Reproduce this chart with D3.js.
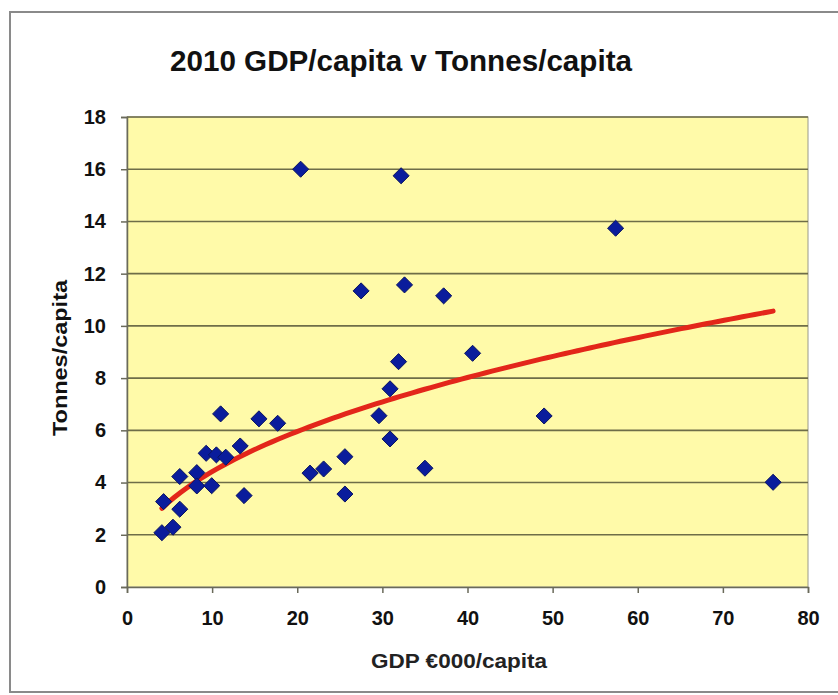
<!DOCTYPE html>
<html>
<head>
<meta charset="utf-8">
<script src="https://cdn.jsdelivr.net/npm/d3@7"></script>
<style>
  html, body { margin: 0; padding: 0; background: #ffffff; }
  svg { display: block; }
  text { font-family: "Liberation Sans", Arial, sans-serif; }
</style>
</head>
<body>
<svg id="chart" width="838" height="695"></svg>
<script>
// ---- data ----
const gdpPerCapita = [4.1, 5.4, 4.3, 6.2, 6.2, 8.2, 8.2, 9.3, 9.95, 10.5, 11.6, 11.0, 13.3, 13.75, 15.5, 17.7,
  20.4, 21.5, 23.1, 25.6, 25.6, 29.6, 30.9, 30.9, 31.9, 32.2, 32.6, 27.5, 37.2, 35.0, 40.6, 49.0, 57.4, 75.9];
const tonnesPerCapita = [2.08, 2.29, 3.27, 2.98, 4.23, 4.38, 3.87, 5.12, 3.88, 5.06, 4.97, 6.63, 5.40, 3.50, 6.44, 6.27,
  16.0, 4.36, 4.52, 4.99, 3.56, 6.56, 7.59, 5.67, 8.63, 15.75, 11.57, 11.34, 11.15, 4.55, 8.95, 6.55, 13.74, 4.01];
const xTicks = [0, 10, 20, 30, 40, 50, 60, 70, 80];
const yTicks = [0, 2, 4, 6, 8, 10, 12, 14, 16, 18];
const titleText = "2010 GDP/capita v Tonnes/capita";
const xTitle = "GDP \u20AC000/capita";
const yTitle = "Tonnes/capita";

// ---- layout ----
const svg = d3.select("#chart");
const plot = { left: 127, right: 808, top: 117, bottom: 587 };

const x = d3.scaleLinear().domain([0, 80]).range([plot.left, plot.right]);
const y = d3.scaleLinear().domain([0, 18]).range([plot.bottom, plot.top]);

// outer frame
svg.append("rect").attr("x", 10).attr("y", 12).attr("width", 840).attr("height", 680)
  .attr("fill", "#ffffff").attr("stroke", "#8a8a8a").attr("stroke-width", 2);

// plot background
svg.append("rect").attr("x", plot.left).attr("y", plot.top)
  .attr("width", plot.right - plot.left).attr("height", plot.bottom - plot.top)
  .attr("fill", "#fffaa9").attr("stroke", "#9a9a8a").attr("stroke-width", 1);

// gridlines
svg.append("g").selectAll("line").data(yTicks.filter(d => d > 0)).join("line")
  .attr("x1", plot.left).attr("x2", plot.right)
  .attr("y1", d => y(d)).attr("y2", d => y(d))
  .attr("stroke", "#6e6d48").attr("stroke-width", 1.6);

// axes
const yAxis = svg.append("g").attr("transform", `translate(${plot.left},0)`)
  .call(d3.axisLeft(y).tickValues(yTicks).tickSize(6).tickPadding(15).tickFormat(d3.format("d")));
const xAxis = svg.append("g").attr("transform", `translate(0,${plot.bottom})`)
  .call(d3.axisBottom(x).tickValues(xTicks).tickSize(6).tickPadding(18).tickFormat(d3.format("d")));
[yAxis, xAxis].forEach(a => {
  a.select(".domain").attr("stroke", "#6a6a5a").attr("stroke-width", 1.5);
  a.selectAll(".tick line").attr("stroke", "#6a6a5a").attr("stroke-width", 1.5);
  a.selectAll(".tick text").attr("font-family", "Liberation Sans, Arial, sans-serif")
    .attr("font-size", 20).attr("font-weight", "bold").attr("fill", "#111");
});

// trend line (power fit, least squares in log-log space, as a spreadsheet power trendline)
const lx = gdpPerCapita.map(Math.log), ly = tonnesPerCapita.map(Math.log);
const mx = d3.mean(lx), my = d3.mean(ly);
const b = d3.sum(lx.map((v, i) => (v - mx) * (ly[i] - my))) / d3.sum(lx.map(v => (v - mx) ** 2));
const a = Math.exp(my - b * mx);
const [xmin, xmax] = d3.extent(gdpPerCapita);
const trendXs = d3.range(0, 101).map(i => xmin + (xmax - xmin) * i / 100);
svg.append("path")
  .attr("d", d3.line().x(d => x(d)).y(d => y(a * Math.pow(d, b)))(trendXs))
  .attr("fill", "none").attr("stroke", "#e3261a").attr("stroke-width", 5).attr("stroke-linecap", "round");

// markers
const diamond = d3.symbol().type(d3.symbolDiamond2).size(165);
svg.append("g").selectAll("path").data(gdpPerCapita).join("path")
  .attr("d", diamond)
  .attr("transform", (d, i) => `translate(${x(d)},${y(tonnesPerCapita[i])})`)
  .attr("fill", "#0a1c9c").attr("stroke", "#0a1460").attr("stroke-width", 1);

// titles
svg.append("text").attr("x", 401).attr("y", 71).attr("text-anchor", "middle")
  .attr("font-size", 29).attr("font-weight", "bold").attr("fill", "#111")
  .attr("textLength", 462).attr("lengthAdjust", "spacingAndGlyphs").text(titleText);
svg.append("text").attr("x", 459).attr("y", 668).attr("text-anchor", "middle")
  .attr("font-size", 20).attr("font-weight", "bold").attr("fill", "#222")
  .attr("textLength", 176).attr("lengthAdjust", "spacingAndGlyphs").text(xTitle);
svg.append("text").attr("transform", "translate(67,358) rotate(-90)").attr("text-anchor", "middle")
  .attr("font-size", 20).attr("font-weight", "bold").attr("fill", "#111")
  .attr("textLength", 156).attr("lengthAdjust", "spacingAndGlyphs").text(yTitle);
</script>
</body>
</html>
